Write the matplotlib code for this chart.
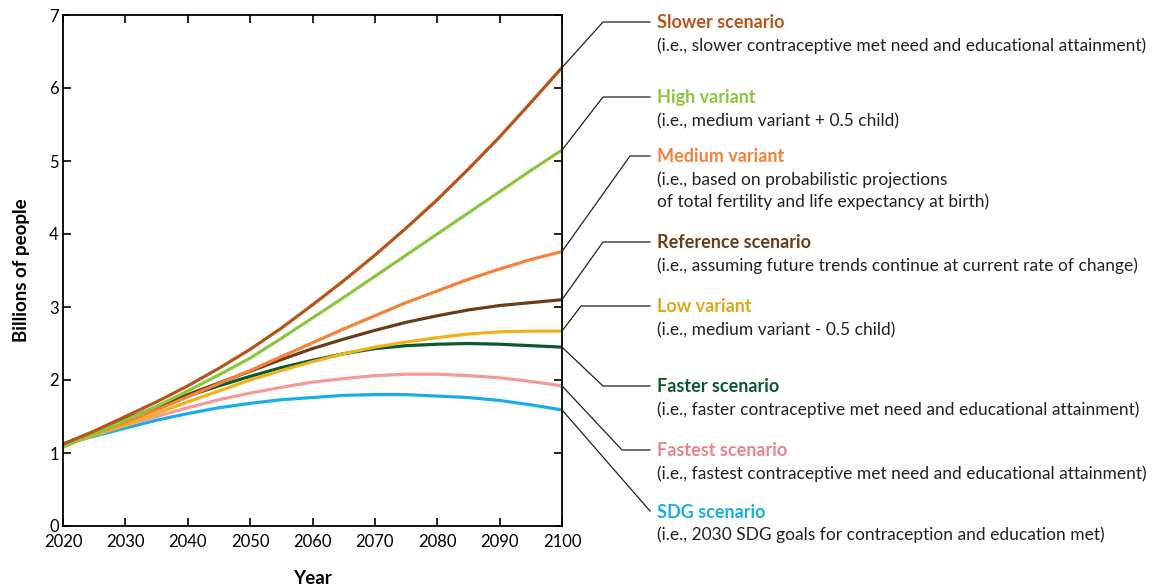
import matplotlib.pyplot as plt
from matplotlib.lines import Line2D

plt.rcParams['font.family'] = ['Lato', 'DejaVu Sans']

years = [2020, 2025, 2030, 2035, 2040, 2045, 2050, 2055, 2060, 2065, 2070, 2075, 2080, 2085, 2090, 2095, 2100]

slower = [1.12, 1.30, 1.50, 1.70, 1.92, 2.16, 2.42, 2.71, 3.03, 3.36, 3.71, 4.08, 4.47, 4.89, 5.33, 5.80, 6.28]
high = [1.08, 1.26, 1.45, 1.64, 1.85, 2.07, 2.30, 2.57, 2.85, 3.13, 3.42, 3.71, 4.00, 4.29, 4.58, 4.87, 5.15]
medium = [1.10, 1.26, 1.42, 1.59, 1.77, 1.95, 2.13, 2.32, 2.51, 2.70, 2.88, 3.06, 3.22, 3.38, 3.52, 3.65, 3.76]
reference = [1.12, 1.29, 1.46, 1.63, 1.80, 1.96, 2.12, 2.28, 2.43, 2.56, 2.68, 2.79, 2.88, 2.96, 3.02, 3.06, 3.10]
low = [1.10, 1.24, 1.38, 1.54, 1.70, 1.85, 2.00, 2.13, 2.25, 2.36, 2.45, 2.52, 2.58, 2.63, 2.66, 2.67, 2.67]
faster = [1.12, 1.29, 1.46, 1.62, 1.78, 1.92, 2.05, 2.17, 2.27, 2.36, 2.43, 2.47, 2.49, 2.50, 2.49, 2.47, 2.45]
fastest = [1.12, 1.25, 1.38, 1.50, 1.62, 1.73, 1.82, 1.90, 1.97, 2.02, 2.06, 2.08, 2.08, 2.06, 2.03, 1.98, 1.92]
sdg = [1.12, 1.23, 1.34, 1.45, 1.54, 1.62, 1.68, 1.73, 1.76, 1.79, 1.80, 1.80, 1.78, 1.76, 1.72, 1.66, 1.59]

series = [slower, high, medium, reference, low, faster, fastest, sdg]
line_colors = ["#b8531a", "#8cc63f", "#f5813a", "#6a3d1a", "#f0b21c", "#0c5a2b", "#f49a9a", "#1aaee8"]
text_colors = ["#b8531a", "#8cc63f", "#f5813a", "#6a3d1a", "#e0a816", "#0c5a2b", "#e8848a", "#1aaee8"]
titles = ["Slower scenario", "High variant", "Medium variant", "Reference scenario",
          "Low variant", "Faster scenario", "Fastest scenario", "SDG scenario"]
subtitles = [
    "(i.e., slower contraceptive met need and educational attainment)",
    "(i.e., medium variant + 0.5 child)",
    "(i.e., based on probabilistic projections\nof total fertility and life expectancy at birth)",
    "(i.e., assuming future trends continue at current rate of change)",
    "(i.e., medium variant - 0.5 child)",
    "(i.e., faster contraceptive met need and educational attainment)",
    "(i.e., fastest contraceptive met need and educational attainment)",
    "(i.e., 2030 SDG goals for contraception and education met)",
]
# label rows (pixels from top) and elbow x of the connector
label_y = [22, 97, 156, 242, 306, 386, 450, 511]
elbow_x = [603, 603, 630, 603, 581, 603, 622, 650]

W, H = 1170, 588
fig = plt.figure(figsize=(W / 100, H / 100), dpi=100)
ax = fig.add_axes([63 / W, 1 - 526 / H, (562 - 63) / W, (526 - 15) / H])

# draw in reverse so upper lines sit on top like the original
for vals, col in reversed(list(zip(series, line_colors))):
    ax.plot(years, vals, color=col, lw=2.3, solid_capstyle='butt')

ax.set_xlim(2020, 2100)
ax.set_ylim(0, 7)
ax.set_xticks(range(2020, 2101, 10))
ax.set_yticks(range(0, 8))
ax.tick_params(direction='in', length=6, width=1.2, top=True, right=True,
               labelsize=12, colors='black', pad=3)
ax.tick_params(axis='x', pad=6)
for sp in ax.spines.values():
    sp.set_linewidth(1.3)
ax.set_xlabel("Year", fontsize=13.5, fontweight='bold', labelpad=14)
ax.set_ylabel("Billions of people", fontsize=13.5, fontweight='bold', labelpad=14)

fig.canvas.draw()
for vals, ex, ly, title, sub, tc in zip(series, elbow_x, label_y, titles, subtitles, text_colors):
    px, py = ax.transData.transform((2100, vals[-1]))
    ty = H - ly
    xs = [px, ex, 650]
    ys = [py, ty, ty]
    fig.add_artist(Line2D([x / W for x in xs], [y / H for y in ys],
                          transform=fig.transFigure, color='#222222', lw=0.9))
    fig.text(657 / W, (ty - 1) / H, title, color=tc, fontsize=13, fontweight='bold',
             va='center', ha='left')
    for i, part in enumerate(sub.split("\n")):
        fig.text(657 / W, (ty - 24 - 22 * i) / H, part, color='#222222', fontsize=12.5,
                 va='center', ha='left')

fig.savefig("out.png", dpi=100)
